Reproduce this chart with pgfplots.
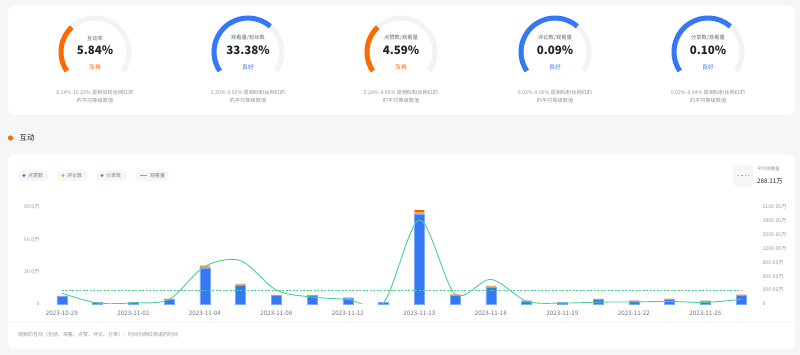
\documentclass[border=0pt]{standalone}
\usepackage{pgfplots}
\pgfplotsset{compat=1.18}
\usepackage{fontspec}
\setmainfont{Noto Sans CJK SC}
\definecolor{bg}{HTML}{F5F6F8}
\definecolor{cblue}{HTML}{3478F6}
\definecolor{cblueedge}{HTML}{7FAAF9}
\definecolor{cyellow}{HTML}{F9A825}
\definecolor{corange}{HTML}{FF5A14}
\definecolor{cgreen}{HTML}{4CCF95}
\definecolor{gorange}{HTML}{FF6A00}
\definecolor{gblue}{HTML}{3478F6}
\definecolor{track}{HTML}{F2F3F5}
\definecolor{tdark}{HTML}{1F2329}
\definecolor{tgray}{HTML}{8F959E}
\definecolor{tmid}{HTML}{646A73}
\definecolor{tlab}{HTML}{7A808A}
\definecolor{tdate}{HTML}{6E7580}
\newcommand\fs[1]{\fontsize{#1}{#1}\selectfont}
\newcommand\gauge[7]{%
 \draw[track, line width=5pt, line cap=butt] (#1,303) ++(214:34) arc[start angle=214, end angle=-34, radius=34];
 \draw[#5, line width=5pt, line cap=butt] (#1,303) ++(214:34) arc[start angle=214, end angle=#6, radius=34];
 \node[text=tmid, font=\fs{5.3}] at (#1,317) {#2};
 \node[text=tdark, font=\fs{11.5}\bfseries] at (#1,305) {#3};
 \node[text=#5, font=\fs{5.8}] at (#1,288) {#4};
 \node[text=tgray, font=\fs{5.2}] at (#1,262) {#7 是相似粉丝网红的};
 \node[text=tgray, font=\fs{5.2}] at (#1,254) {的平均等级数值};
}
\begin{document}
\begin{tikzpicture}[x=1pt,y=1pt]
\fill[bg] (0,0) rectangle (800,355);
\fill[white, rounded corners=6pt] (8,240) rectangle (795,349);
\fill[white, rounded corners=6pt] (8,6) rectangle (795,201);
\draw[bg, line width=0.8pt] (8,33) -- (795,33);
% gauges
\gauge{95}{互动率}{5.84\%}{及格}{gorange}{133}{6.14\%-10.23\%}
\gauge{248}{观看量/粉丝数}{33.38\%}{良好}{gblue}{49}{2.20\%-9.92\%}
\gauge{401}{点赞数/观看量}{4.59\%}{及格}{gorange}{133}{5.28\%-8.99\%}
\gauge{555}{评论数/观看量}{0.09\%}{良好}{gblue}{49}{0.03\%-0.06\%}
\gauge{708}{分享数/观看量}{0.10\%}{良好}{gblue}{49}{0.02\%-0.04\%}
% section title
\fill[gorange] (10.5,217) circle (2.6pt);
\node[anchor=west, text=tdark, font=\fs{7.5}] at (16,217) {互动};
% legend pills
\fill[bg, rounded corners=5pt] (18,174) rectangle (49,185);
\fill[cblue] (24,179.5) circle (1.6pt);
\node[anchor=west, text=tlab, font=\fs{5}, inner sep=0pt] at (28,179.5) {点赞数};
\fill[bg, rounded corners=5pt] (57,174) rectangle (88,185);
\fill[cyellow] (63,179.5) circle (1.6pt);
\node[anchor=west, text=tlab, font=\fs{5}, inner sep=0pt] at (67,179.5) {评论数};
\fill[bg, rounded corners=5pt] (96,174) rectangle (127,185);
\fill[corange] (102,179.5) circle (1.6pt);
\node[anchor=west, text=tlab, font=\fs{5}, inner sep=0pt] at (106,179.5) {分享数};
\fill[bg, rounded corners=5pt] (135,174) rectangle (169,185);
\draw[cgreen, line width=1.5pt] (140,179.5) -- (147,179.5);
\node[anchor=west, text=tlab, font=\fs{5}, inner sep=0pt] at (150,179.5) {观看量};
% average box
\fill[bg, rounded corners=3pt] (733,169) rectangle (753,190);
\draw[cgreen, line width=1pt, dash pattern=on 1.5pt off 2pt] (737.5,179.5) -- (749,179.5);
\node[anchor=west, text=tgray, font=\fs{4.5}, inner sep=0pt] at (757,186) {平均观看量};
\node[anchor=west, text=tdark, font=\fs{6.3}, inner sep=0pt] at (757,174) {288.11万};
% footer
\node[anchor=west, text=tgray, font=\fs{5}, inner sep=0pt] at (18,20) {视频的互动（包括、观看、点赞、评论、分享），时间为网红频道的时间};

\begin{axis}[at={(44pt,51pt)}, anchor=south west, scale only axis, width=715pt, height=97pt,
 xmin=-0.5, xmax=19.5, ymin=0, ymax=90,
 axis line style={draw=none}, major tick length=0pt,
 xtick={0,2,...,18},
 xticklabels={2023-10-29,2023-11-02,2023-11-04,2023-11-08,2023-11-12,2023-11-13,2023-11-18,2023-11-19,2023-11-22,2023-11-25},
 ytick={0,30,60,90}, yticklabels={0,30.0万,60.0万,90.0万},
 x tick label style={font=\fs{6.2}, text=tdate, yshift=-3pt},
 y tick label style={font=\fs{5.2}, text=tgray, xshift=-1pt},
 ybar stacked, bar width=10pt, clip=false]
\addplot[fill=cblue, draw=cblueedge, line width=0.5pt] coordinates {
(0,7.0)(1,1.2)(2,1.2)(3,4.5)(4,33.5)(5,17.8)(6,8.0)(7,8.0)(8,5.5)(9,1.5)
(10,83.5)(11,8.3)(12,15.8)(13,2.8)(14,1.2)(15,4.5)(16,3.0)(17,4.5)(18,2.8)(19,8.3)};
\addplot[fill=cyellow, draw=none] coordinates {
(0,0.3)(1,0.05)(2,0.05)(3,0.2)(4,1.2)(5,0.5)(6,0.3)(7,0.3)(8,0.2)(9,0.05)
(10,1.5)(11,0.3)(12,0.5)(13,0.1)(14,0.05)(15,0.15)(16,0.1)(17,0.15)(18,0.1)(19,0.3)};
\addplot[fill=corange, draw=none] coordinates {
(0,0.3)(1,0.02)(2,0.02)(3,0.1)(4,0.8)(5,0.4)(6,0.2)(7,0.2)(8,0.1)(9,0.02)
(10,2.0)(11,0.3)(12,0.4)(13,0.05)(14,0.02)(15,0.1)(16,0.05)(17,0.1)(18,0.05)(19,0.2)};
\end{axis}

\begin{axis}[at={(44pt,51pt)}, anchor=south west, scale only axis, width=715pt, height=97pt,
 xmin=-0.5, xmax=19.5, ymin=0, ymax=2100,
 hide x axis, axis y line*=right, axis line style={draw=none}, major tick length=0pt,
 ytick={0,300,...,2100},
 yticklabels={0,300.00万,600.00万,900.00万,1200.00万,1500.00万,1800.00万,2100.00万},
 y tick label style={font=\fs{5.2}, text=tgray}]
\addplot[cgreen, line width=0.9pt, smooth, tension=0.5, mark=none] coordinates {
(0,235)(1,20)(2,25)(3,100)(4,815)(5,940)(6,300)(7,150)(8,100)(9,25)
(10,1820)(11,210)(12,535)(13,60)(14,20)(15,40)(16,45)(17,55)(18,35)(19,100)};
\addplot[cgreen, line width=0.8pt, dash pattern=on 2pt off 1.5pt, mark=none] coordinates {(0,288.11)(19,288.11)};
\end{axis}
\pgfresetboundingbox
\path[use as bounding box] (0,0) rectangle (800,355);
\end{tikzpicture}
\end{document}
